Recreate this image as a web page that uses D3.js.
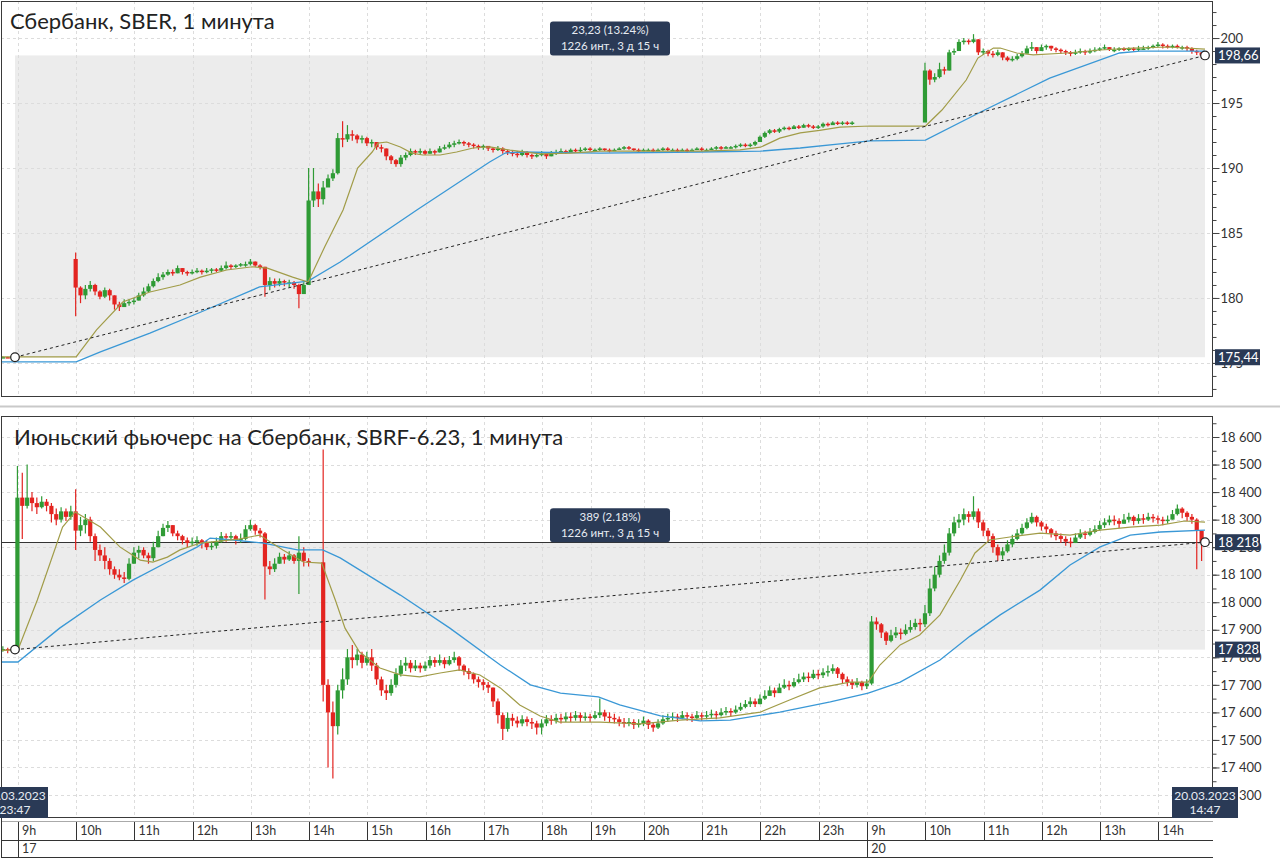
<!DOCTYPE html>
<html><head><meta charset="utf-8">
<script src="https://cdn.jsdelivr.net/npm/d3@7/dist/d3.min.js"></script>
<style>
body{margin:0;background:#fff}
svg{display:block}
text{font-family:Lato,'Open Sans',sans-serif}
</style>
</head><body>
<svg id="c" width="1280" height="860"></svg>
<script>
// ---------------- DATA ----------------
// x axis: minute intervals (0 = 16.03.2023 23:47, 1226 = 20.03.2023 14:47)
const totalIntervals = 1226;
const hourLabels = ["9h","10h","11h","12h","13h","14h","15h","16h","17h","18h","19h","20h","21h","22h","23h","9h","10h","11h","12h","13h","14h"];
const hourStarts = [3,63,123,183,243,303,363,423,483,543,593,648,708,768,828,878,938,998,1058,1118,1178];
const dayLabels = ["17","20"];
const dayStarts = [3,878];
const startDate = ["16.03.2023","23:47"];
const endDate = ["20.03.2023","14:47"];
// 5-minute aggregated candles, first one starts at interval -15
const candleStart = -15, candleStep = 5;

// Panel 1: SBER
const sberTitle = "Сбербанк, SBER, 1 минута";
const sberClose = [
175.45,175.42,175.46,175.44,null,null,null,null,null,null,null,null,null,null,null,
180.8,180.2,180.7,181.0,180.5,180.1,180.6,180.2,179.5,179.3,
179.6,179.7,179.8,180.2,180.5,180.9,181.3,181.6,181.8,182.0,
181.9,182.3,182.0,181.9,182.0,182.1,182.0,182.1,182.2,182.1,
182.3,182.5,182.4,182.5,182.6,182.6,182.8,182.5,182.4,181.0,
181.3,181.1,181.3,181.2,181.2,181.0,180.3,181.0,187.5,188.2,
187.6,188.5,189.2,189.6,192.3,192.2,192.6,192.5,192.2,192.3,
191.9,192.0,191.6,191.5,190.9,190.6,190.3,190.8,191.0,191.3,
191.2,191.3,191.1,191.3,191.2,191.5,191.6,191.8,191.9,192.0,
191.9,191.8,191.7,191.6,191.7,191.5,191.4,191.5,191.3,191.2,
191.1,191.0,191.2,191.0,190.9,191.0,191.1,190.9,191.1,191.2,
191.3,191.2,191.4,191.3,191.4,191.5,191.4,191.4,191.5,191.4,
191.3,191.4,191.5,191.6,191.5,191.4,191.3,191.4,191.4,191.3,
191.4,191.5,191.4,191.4,191.3,191.4,191.3,191.4,191.5,191.4,
191.4,191.5,191.6,191.5,191.6,191.6,191.7,191.8,191.7,191.8,
192.0,192.4,192.7,192.9,192.8,193.0,193.1,193.0,193.2,193.1,
193.3,193.2,193.1,193.2,193.4,193.3,193.5,193.4,193.5,193.4,
193.5,null,null,null,null,null,null,null,null,null,
null,null,null,null,null,
197.5,196.8,197.0,197.6,197.5,198.9,199.0,199.7,199.8,199.7,
199.9,198.9,199.0,198.8,198.7,198.9,198.5,198.3,198.4,198.6,
198.8,199.2,199.3,199.0,199.3,199.4,199.2,199.1,199.0,198.9,
198.8,198.9,199.0,198.9,199.0,199.1,199.2,199.3,199.1,199.1,
199.2,199.1,199.2,199.1,199.2,199.2,199.3,199.4,199.5,199.4,
199.3,199.4,199.3,199.3,199.2,199.0,198.9,198.66];
const sberHigh = [
175.5,175.48,175.5,175.48,null,null,null,null,null,null,null,null,null,null,null,
183.5,180.9,181.0,181.3,181.1,180.6,180.8,180.7,180.2,179.7,
179.9,179.9,180.0,180.4,180.8,181.1,181.5,181.9,182.0,182.2,
182.2,182.5,182.3,182.1,182.2,182.3,182.2,182.3,182.3,182.3,
182.5,182.8,182.6,182.6,182.7,182.8,183.0,182.8,182.6,182.4,
181.6,181.5,181.5,181.4,181.4,181.3,181.1,181.2,190.0,190.0,
188.8,189.0,189.5,189.9,192.7,193.6,193.3,192.9,192.6,192.5,
192.4,192.2,192.0,191.8,191.5,191.0,190.7,191.0,191.2,191.5,
191.4,191.5,191.4,191.5,191.4,191.7,191.8,192.0,192.1,192.2,
192.1,192.0,191.9,191.8,191.8,191.7,191.6,191.7,191.6,191.4,
191.3,191.3,191.4,191.3,191.1,191.2,191.3,191.1,191.3,191.4,
191.5,191.4,191.5,191.5,191.6,191.6,191.6,191.5,191.6,191.5,
191.5,191.5,191.6,191.7,191.7,191.5,191.5,191.5,191.5,191.5,
191.5,191.6,191.6,191.5,191.5,191.5,191.5,191.5,191.6,191.6,
191.5,191.6,191.7,191.7,191.7,191.7,191.8,191.9,191.9,191.9,
192.1,192.5,192.8,193.0,193.0,193.1,193.2,193.2,193.3,193.3,
193.4,193.4,193.3,193.3,193.5,193.5,193.6,193.6,193.6,193.6,
193.6,null,null,null,null,null,null,null,null,null,
null,null,null,null,null,
198.1,197.6,197.3,198.1,197.8,199.1,199.2,199.9,200.0,199.9,
200.3,199.9,199.2,199.1,199.0,199.1,198.9,198.6,198.6,198.8,
199.0,199.4,199.7,199.3,199.5,199.5,199.4,199.3,199.2,199.1,
199.0,199.1,199.2,199.1,199.2,199.3,199.3,199.5,199.3,199.3,
199.3,199.3,199.3,199.3,199.4,199.4,199.4,199.5,199.7,199.6,
199.5,199.5,199.5,199.4,199.4,199.3,199.1,198.9];
const sberLow = [
175.4,175.38,175.4,175.4,null,null,null,null,null,null,null,null,null,null,null,
178.6,179.6,179.9,180.5,180.2,179.9,180.0,179.8,179.1,179.0,
179.3,179.4,179.5,179.8,180.1,180.4,180.8,181.2,181.4,181.7,
181.7,181.9,181.8,181.7,181.8,181.9,181.8,181.9,181.9,182.0,
182.0,182.2,182.2,182.3,182.4,182.4,182.5,182.4,182.2,180.1,
180.6,180.8,180.9,180.9,180.8,180.7,179.2,180.4,181.0,187.0,
187.0,187.2,188.6,189.0,189.5,191.6,192.0,192.1,191.9,191.9,
191.7,191.6,191.4,191.2,190.6,190.3,190.1,190.1,190.6,190.9,
191.0,191.0,191.0,191.1,191.0,191.2,191.4,191.5,191.6,191.8,
191.7,191.6,191.5,191.4,191.4,191.3,191.2,191.3,191.1,191.0,
190.9,190.8,190.9,190.8,190.7,190.8,190.9,190.7,190.9,191.0,
191.1,191.1,191.2,191.2,191.2,191.3,191.3,191.3,191.3,191.3,
191.2,191.3,191.4,191.4,191.4,191.3,191.2,191.3,191.3,191.2,
191.3,191.3,191.3,191.3,191.2,191.3,191.2,191.3,191.4,191.3,
191.3,191.4,191.4,191.4,191.5,191.5,191.5,191.6,191.6,191.6,
191.7,192.0,192.3,192.6,192.7,192.7,192.9,192.9,193.0,193.0,
193.1,193.1,193.0,193.0,193.1,193.2,193.3,193.3,193.3,193.3,
193.3,null,null,null,null,null,null,null,null,null,
null,null,null,null,null,
195.0,196.4,196.6,196.9,197.2,197.5,198.7,199.0,199.5,199.5,
199.6,198.7,198.7,198.6,198.5,198.6,198.3,198.2,198.2,198.3,
198.5,198.8,199.0,198.8,199.0,199.1,199.0,198.9,198.8,198.7,
198.6,198.7,198.8,198.7,198.8,198.9,199.0,199.1,199.0,198.9,
199.0,199.0,199.0,199.0,199.0,199.1,199.1,199.2,199.3,199.2,
199.2,199.2,199.2,199.1,199.0,198.8,198.7,198.4];
const sberGapOpen = {15: 183.0};
// moving averages as [interval, value]
const sberMaFast = [[-15,175.46],[63,175.46],[84,177.54],[111,179.69],[122,180.0],[139,180.46],[170,181.0],[191,181.6],[218,182.15],[245,182.4],[260,182.3],[286,181.6],[302,181.23],[319,183.92],[338,186.77],[353,190.0],[368,191.23],[374,191.92],[383,192.0],[397,191.62],[409,191.15],[420,191.0],[438,191.0],[455,191.23],[472,191.54],[489,191.62],[510,191.38],[541,191.08],[572,191.15],[603,191.3],[654,191.3],[706,191.3],[747,191.4],[768,191.6],[788,192.3],[809,192.7],[829,192.9],[850,193.15],[881,193.23],[938,193.23],[955,194.46],[980,196.77],[992,198.46],[1008,199.23],[1015,199.23],[1032,198.85],[1049,198.7],[1084,198.85],[1118,199.08],[1152,199.23],[1187,199.31],[1226,199.15]];
const sberMaSlow = [[-15,175.08],[63,175.08],[88,175.85],[139,177.3],[191,178.9],[252,180.85],[302,181.3],[335,182.77],[414,186.77],[489,190.46],[505,191.15],[520,191.23],[603,191.15],[706,191.23],[768,191.3],[809,191.54],[850,191.85],[881,192.08],[938,192.15],[999,194.46],[1066,196.92],[1138,198.85],[1159,199.0],[1226,199.0]];
const sberStart = 175.44, sberEnd = 198.66;
const sberStartLabel = "175,44", sberEndLabel = "198,66";
const sberNote = ["23,23 (13.24%)","1226 инт., 3 д 15 ч"];
const sberTicks = [175,180,185,190,195,200];
const sberTickLabels = ["175","180","185","190","195","200"];

// Panel 2: SBRF-6.23
const futTitle = "Июньский фьючерс на Сбербанк, SBRF-6.23, 1 минута";
const futClose = [
17830,17825,17830,
18380,18350,18380,18360,18345,18365,18350,18320,18300,18330,
18310,18330,18260,18280,18300,18240,18190,18170,18150,18120,
18100,18090,18085,18140,18180,18190,18170,18160,18200,18240,
18270,18280,18250,18240,18225,18215,18220,18225,18215,18200,
18205,18220,18240,18235,18240,18225,18230,18265,18280,18260,
18250,18130,18120,18140,18165,18155,18170,18150,18180,18150,
18145,null,null,17700,17600,17550,17680,17720,17800,17790,
17810,17780,17800,17770,17720,17680,17670,17700,17740,17770,
17780,17760,17770,17760,17770,17790,17780,17790,17775,17790,
17800,17770,17750,17740,17720,17710,17700,17690,17640,17590,
17540,17580,17570,17560,17575,17565,17560,17545,17560,17575,
17570,17580,17575,17585,17580,17590,17580,17585,17580,17590,
17600,17585,17580,17575,17565,17560,17565,17555,17560,17570,
17555,17545,17560,17575,17580,17585,17580,17590,17585,17580,
17590,17585,17590,17595,17590,17600,17605,17600,17610,17620,
17630,17640,17630,17650,17660,17680,17670,17690,17700,17695,
17710,17720,17730,17725,17740,17735,17745,17750,17760,17740,
17720,17710,17700,17710,17695,17705,17930,17920,17890,17860,
17880,17890,17885,17900,17910,17925,17920,17960,18050,18100,
18150,18180,18250,18290,18300,18320,18310,18330,18290,18260,
18240,18200,18170,18185,18210,18230,18250,18270,18290,18310,
18290,18275,18265,18250,18240,18230,18220,18215,18235,18250,
18245,18255,18265,18280,18290,18300,18295,18285,18300,18310,
18295,18305,18300,18310,18305,18300,18295,18300,18320,18340,
18325,18310,18300,18260,18218];
const futHigh = [
17840,17835,17840,
18495,18470,18500,18400,18380,18385,18375,18360,18340,18345,
18340,18350,18410,18310,18320,18310,18250,18210,18200,18160,
18130,18120,18110,18160,18200,18205,18200,18180,18220,18260,
18285,18295,18280,18260,18245,18235,18235,18240,18230,18225,
18220,18235,18255,18250,18255,18245,18250,18280,18300,18285,
18270,18255,18150,18160,18180,18175,18185,18175,18240,18200,
18160,null,null,18555,17720,17640,17700,17760,17830,17845,
17830,17820,17820,17830,17780,17730,17700,17720,17760,17790,
17800,17790,17790,17780,17785,17805,17800,17810,17800,17805,
17820,17805,17775,17760,17745,17730,17720,17710,17690,17650,
17600,17600,17595,17585,17590,17585,17580,17570,17575,17590,
17590,17595,17595,17600,17600,17605,17600,17600,17595,17605,
17650,17610,17600,17595,17585,17580,17580,17575,17575,17585,
17575,17565,17575,17590,17595,17600,17595,17605,17600,17595,
17605,17600,17605,17610,17605,17615,17620,17615,17625,17635,
17645,17655,17650,17665,17680,17695,17690,17705,17720,17715,
17725,17740,17745,17745,17755,17755,17760,17770,17775,17765,
17745,17730,17720,17725,17715,17720,17950,17945,17925,17895,
17900,17910,17905,17920,17935,17940,17940,17990,18085,18130,
18170,18210,18270,18310,18320,18340,18330,18385,18340,18300,
18270,18250,18210,18200,18225,18245,18265,18285,18305,18325,
18315,18295,18285,18270,18260,18250,18240,18235,18250,18265,
18260,18270,18280,18295,18305,18315,18315,18305,18320,18325,
18315,18320,18320,18325,18320,18315,18310,18315,18335,18355,
18345,18330,18320,18305,18260];
const futLow = [
17820,17815,17820,
17820,18230,18340,18330,18320,18340,18330,18290,18280,18290,
18295,18300,18190,18240,18250,18220,18150,18150,18120,18100,
18085,18080,18070,18080,18140,18160,18160,18140,18150,18200,
18240,18255,18240,18225,18210,18200,18205,18205,18195,18190,
18190,18195,18215,18220,18225,18210,18215,18225,18260,18245,
18235,18010,18100,18110,18140,18140,18150,18140,18030,18130,
18130,null,null,17640,17400,17360,17520,17650,17700,17760,
17770,17760,17770,17750,17700,17660,17645,17660,17690,17730,
17750,17745,17750,17745,17750,17760,17765,17770,17760,17770,
17780,17750,17735,17720,17705,17690,17680,17670,17620,17560,
17500,17530,17550,17545,17550,17550,17540,17520,17520,17550,
17555,17560,17560,17565,17565,17570,17565,17570,17565,17575,
17580,17570,17565,17560,17550,17545,17550,17540,17545,17550,
17540,17530,17540,17555,17565,17570,17565,17575,17570,17565,
17575,17570,17575,17580,17575,17585,17590,17585,17595,17605,
17615,17620,17620,17630,17645,17660,17655,17670,17685,17680,
17690,17705,17710,17710,17720,17720,17725,17730,17740,17725,
17705,17695,17685,17690,17680,17685,17700,17900,17870,17845,
17855,17870,17865,17880,17890,17900,17895,17910,17950,18040,
18090,18140,18170,18240,18270,18280,18290,18300,18270,18240,
18220,18180,18150,18155,18180,18200,18225,18245,18265,18285,
18275,18260,18250,18235,18225,18215,18205,18200,18215,18230,
18230,18240,18250,18260,18270,18280,18280,18270,18285,18290,
18280,18285,18285,18295,18290,18285,18280,18285,18300,18315,
18305,18295,18285,18120,18150];
const futGapOpen = {};
const futMaFast = [[-15,17825],[3,17827],[23,18008],[49,18273],[62,18328],[88,18273],[108,18201],[129,18153],[142,18146],[157,18164],[170,18190],[191,18215],[232,18230],[252,18244],[276,18190],[297,18146],[316,18142],[330,18008],[340,17906],[355,17819],[376,17761],[397,17736],[417,17729],[438,17743],[458,17754],[479,17736],[500,17689],[520,17627],[541,17587],[561,17565],[603,17565],[644,17558],[685,17572],[726,17580],[768,17601],[798,17645],[829,17689],[860,17710],[879,17710],[891,17772],[912,17845],[932,17881],[953,17954],[974,18081],[989,18179],[1004,18226],[1025,18237],[1056,18251],[1087,18244],[1118,18262],[1149,18273],[1180,18280],[1205,18295],[1226,18291]];
const futMaSlow = [[-15,17783],[3,17783],[46,17906],[88,18008],[122,18081],[157,18146],[188,18201],[201,18233],[225,18226],[256,18215],[291,18190],[317,18190],[335,18161],[397,18026],[448,17906],[500,17772],[531,17700],[562,17670],[601,17656],[623,17627],[665,17587],[706,17569],[737,17572],[788,17601],[840,17638],[879,17670],[912,17710],[953,17790],[984,17877],[1015,17954],[1056,18044],[1087,18135],[1118,18201],[1149,18244],[1180,18255],[1226,18262]];
const futStart = 17828, futEnd = 18218;
const futStartLabel = "17 828", futEndLabel = "18 218";
const futNote = ["389 (2.18%)","1226 инт., 3 д 15 ч"];
const futTicks = [17300,17400,17500,17600,17700,17800,17900,18000,18100,18200,18300,18400,18500,18600];
const futTickLabels = ["17 300","17 400","17 500","17 600","17 700","17 800","17 900","18 000","18 100","18 200","18 300","18 400","18 500","18 600"];

// ---------------- STYLE / LAYOUT ----------------
const C = {up:"#2f9b35", down:"#e32420", fast:"#a19c48", slow:"#3a98d6", navy:"#2a3a56", grid:"#dcdcdc", zone:"#ececec", frame:"#3a3a3a"};
const PL = 1, PR = 1213;
const svg = d3.select("#c");
const x = d3.scaleLinear().domain([0,totalIntervals]).range([15,1205]);

function buildCandles(closes, highs, lows, gapOpen){
  const out = []; let prev = null;
  closes.forEach((c,j)=>{
    if(c==null) return;
    const o = gapOpen[j]!=null ? gapOpen[j] : (prev==null ? c : prev);
    out.push({j, o, c, h:highs[j], l:lows[j], t:candleStart + candleStep*j + candleStep/2});
    prev = c;
  });
  return out;
}

function panel(cfg){
  const y = d3.scaleLinear().domain(cfg.domain).range([cfg.bottom, cfg.top]);
  const clipId = "clip" + cfg.id;
  svg.append("clipPath").attr("id",clipId).append("rect")
    .attr("x",PL).attr("y",cfg.top).attr("width",PR-PL).attr("height",cfg.bottom-cfg.top);
  const g = svg.append("g").attr("clip-path",`url(#${clipId})`);

  // measured zone
  const ys = y(cfg.start), ye = y(cfg.end);
  g.append("rect").attr("x",x(0)).attr("width",x(totalIntervals)-x(0))
    .attr("y",Math.min(ys,ye)).attr("height",Math.abs(ys-ye)).attr("fill",C.zone);

  // grid
  g.selectAll(".vg").data(hourStarts).join("line")
    .attr("x1",d=>Math.round(x(d))+0.5).attr("x2",d=>Math.round(x(d))+0.5)
    .attr("y1",cfg.top).attr("y2",cfg.bottom)
    .attr("stroke",C.grid).attr("stroke-dasharray","3,3");
  g.selectAll(".hg").data(cfg.ticks).join("line")
    .attr("x1",PL).attr("x2",PR)
    .attr("y1",d=>Math.round(y(d))+0.5).attr("y2",d=>Math.round(y(d))+0.5)
    .attr("stroke",C.grid).attr("stroke-dasharray","3,3");

  if(cfg.priceLine){
    g.append("line").attr("x1",PL).attr("x2",PR)
      .attr("y1",Math.round(ye)+0.5).attr("y2",Math.round(ye)+0.5)
      .attr("stroke","#333").attr("stroke-width",1);
  }

  // candles
  const cd = buildCandles(cfg.close, cfg.high, cfg.low, cfg.gapOpen);
  const cg = g.append("g");
  cg.selectAll("line").data(cd).join("line")
    .attr("x1",d=>x(d.t)).attr("x2",d=>x(d.t))
    .attr("y1",d=>y(d.h)).attr("y2",d=>y(d.l))
    .attr("stroke",d=>d.c>=d.o?C.up:C.down).attr("stroke-width",1.2);
  cg.selectAll("rect").data(cd).join("rect")
    .attr("x",d=>x(d.t)-2.1).attr("width",4.2)
    .attr("y",d=>Math.min(y(d.o),y(d.c)))
    .attr("height",d=>Math.max(1.5,Math.abs(y(d.o)-y(d.c))))
    .attr("fill",d=>d.c>=d.o?C.up:C.down);

  // moving averages
  const line = d3.line().x(d=>x(d[0])).y(d=>y(d[1]));
  g.append("path").attr("d",line(cfg.maSlow)).attr("fill","none").attr("stroke",C.slow).attr("stroke-width",1.3);
  g.append("path").attr("d",line(cfg.maFast)).attr("fill","none").attr("stroke",C.fast).attr("stroke-width",1.2);

  // measuring line
  g.append("line").attr("x1",x(0)).attr("y1",ys).attr("x2",x(totalIntervals)).attr("y2",ye)
    .attr("stroke","#222").attr("stroke-width",1).attr("stroke-dasharray","3,3");
  [[0,ys],[totalIntervals,ye]].forEach(p=>{
    svg.append("circle").attr("cx",x(p[0])).attr("cy",p[1]).attr("r",4.3)
      .attr("fill","#fff").attr("stroke","#222").attr("stroke-width",1.2);
  });

  // note box
  const mx = (x(0)+x(totalIntervals))/2, top = Math.min(ys,ye);
  svg.append("rect").attr("x",mx-60).attr("y",top-34).attr("width",120).attr("height",34).attr("rx",3).attr("fill",C.navy);
  cfg.note.forEach((t,i)=>{
    svg.append("text").attr("x",mx).attr("y",top-21+i*16).attr("text-anchor","middle")
      .attr("font-size",11.5).attr("fill","#e6ebf2").text(t);
  });

  // frame
  svg.append("rect").attr("x",PL+0.5).attr("y",cfg.top+0.5).attr("width",PR-PL-1).attr("height",cfg.bottom-cfg.top-1)
    .attr("fill","none").attr("stroke",C.frame);

  // title
  svg.append("text").attr("x",cfg.titleX).attr("y",cfg.titleY).attr("font-size",22).attr("fill","#222").text(cfg.title);

  // right axis
  const minor = d3.range(Math.ceil(cfg.domain[0]/cfg.minorStep)*cfg.minorStep, cfg.domain[1], cfg.minorStep);
  const axMinor = svg.append("g").attr("transform",`translate(${PR-0.5},0)`)
    .call(d3.axisRight(y).tickValues(minor).tickSize(4).tickSizeOuter(0).tickFormat(""));
  axMinor.select(".domain").remove();
  axMinor.selectAll("line").attr("stroke","#444");
  const ax = svg.append("g").attr("transform",`translate(${PR-0.5},0)`)
    .call(d3.axisRight(y).tickValues(cfg.ticks).tickSize(7).tickSizeOuter(0).tickFormat((d,i)=>cfg.tickLabels[i]));
  ax.select(".domain").remove();
  ax.selectAll("line").attr("stroke","#444");
  ax.selectAll("text").attr("font-size",13).attr("fill","#333").attr("x",8).attr("font-family","Lato,'Open Sans',sans-serif");

  // price labels
  [[cfg.start,cfg.startLabel],[cfg.end,cfg.endLabel]].forEach(p=>{
    const py = y(p[0]);
    svg.append("rect").attr("x",PR+2).attr("y",py-8).attr("width",45).attr("height",16).attr("fill",C.navy);
    svg.append("text").attr("x",PR+5).attr("y",py+4.5).attr("font-size",13).attr("fill","#fff").text(p[1]);
  });
  return y;
}

svg.append("rect").attr("width",1280).attr("height",860).attr("fill","#fff");

panel({id:1, top:1, bottom:397, domain:[172.38,202.85],
  close:sberClose, high:sberHigh, low:sberLow, gapOpen:sberGapOpen,
  maFast:sberMaFast, maSlow:sberMaSlow, start:sberStart, end:sberEnd,
  startLabel:sberStartLabel, endLabel:sberEndLabel, note:sberNote,
  ticks:sberTicks, tickLabels:sberTickLabels, minorStep:1,
  title:sberTitle, titleX:10, titleY:29, priceLine:false});

svg.append("rect").attr("x",0).attr("y",405.5).attr("width",1280).attr("height",2).attr("fill","#c9c9c9");

panel({id:2, top:416, bottom:818, domain:[17216.5,18676.3],
  close:futClose, high:futHigh, low:futLow, gapOpen:futGapOpen,
  maFast:futMaFast, maSlow:futMaSlow, start:futStart, end:futEnd,
  startLabel:futStartLabel, endLabel:futEndLabel, note:futNote,
  ticks:futTicks, tickLabels:futTickLabels, minorStep:50,
  title:futTitle, titleX:14, titleY:445, priceLine:true});

// ---------------- TIME AXIS ----------------
const ta = svg.append("g");
ta.append("line").attr("x1",PL).attr("x2",PR).attr("y1",821.5).attr("y2",821.5).attr("stroke","#aaa");
ta.append("line").attr("x1",PL).attr("x2",PR).attr("y1",840.5).attr("y2",840.5).attr("stroke","#333");
ta.append("line").attr("x1",PL).attr("x2",PR).attr("y1",857.5).attr("y2",857.5).attr("stroke","#333");
ta.append("line").attr("x1",PL+0.5).attr("x2",PL+0.5).attr("y1",818).attr("y2",858).attr("stroke","#333");
ta.selectAll(".hs").data(hourStarts).join("line")
  .attr("x1",d=>Math.round(x(d))+0.5).attr("x2",d=>Math.round(x(d))+0.5).attr("y1",822).attr("y2",840)
  .attr("stroke","#333");
ta.selectAll(".hl").data(hourStarts).join("text")
  .attr("x",d=>x(d)+4).attr("y",835).attr("font-size",12.5).attr("fill","#333")
  .text((d,i)=>hourLabels[i]);
ta.selectAll(".ds").data(dayStarts).join("line")
  .attr("x1",d=>Math.round(x(d))+0.5).attr("x2",d=>Math.round(x(d))+0.5).attr("y1",841).attr("y2",857)
  .attr("stroke","#333");
ta.selectAll(".dl").data(dayStarts).join("text")
  .attr("x",d=>x(d)+4).attr("y",853).attr("font-size",12.5).attr("fill","#333")
  .text((d,i)=>dayLabels[i]);

// date flags
[[0,startDate],[totalIntervals,endDate]].forEach(p=>{
  const cx = x(p[0]);
  svg.append("rect").attr("x",cx-33).attr("y",787).attr("width",66).attr("height",31).attr("fill",C.navy);
  p[1].forEach((t,i)=>{
    svg.append("text").attr("x",cx).attr("y",800+i*14).attr("text-anchor","middle")
      .attr("font-size",12).attr("fill","#e6ebf2").text(t);
  });
});
</script>
</body></html>
